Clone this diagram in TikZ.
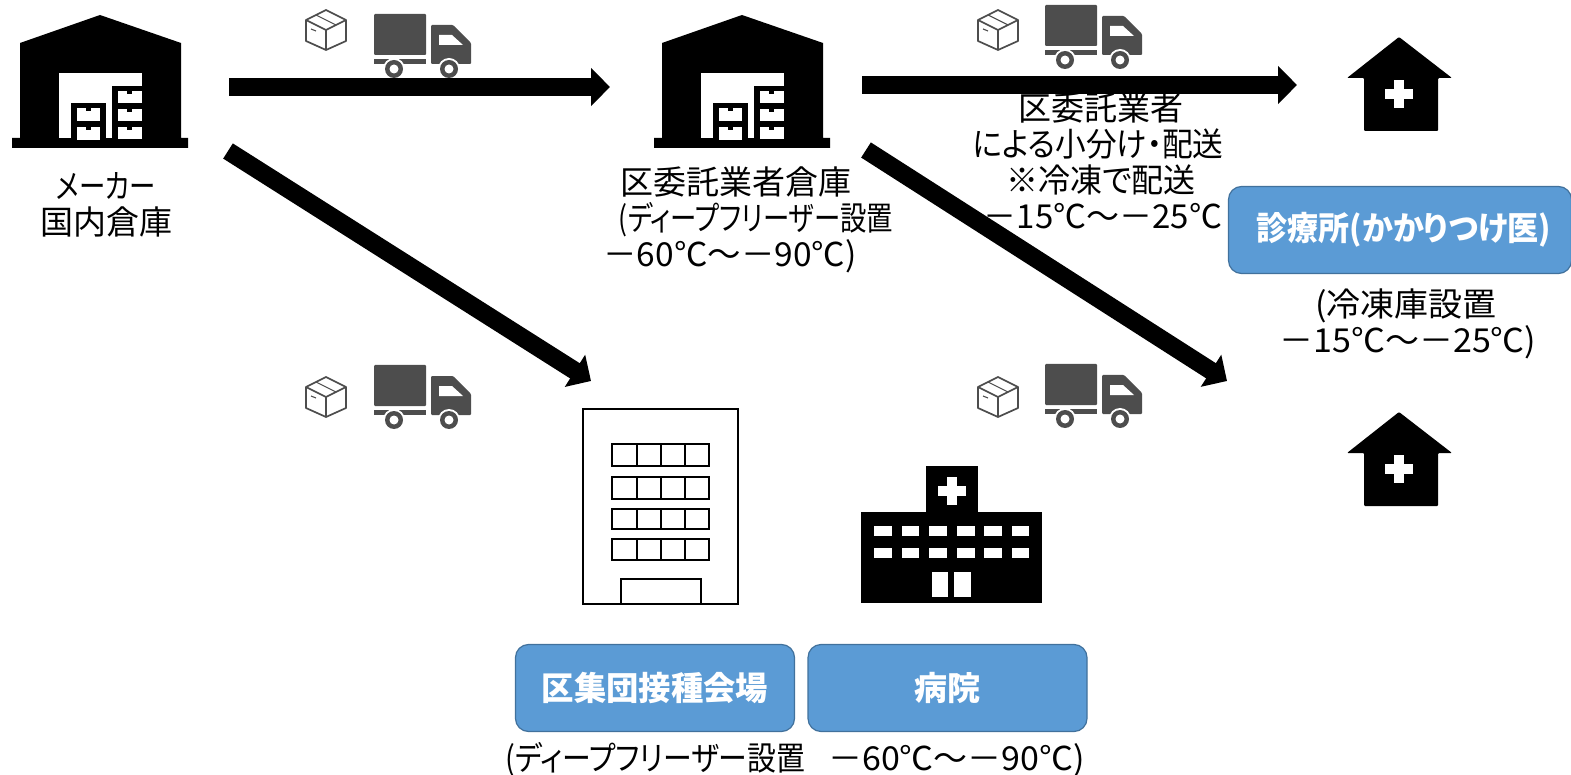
\documentclass[tikz,border=0pt]{standalone}
\usepackage{fontspec}
\usetikzlibrary{arrows.meta}
\setmainfont{Noto Sans CJK JP}[RawFeature={+palt}]
\definecolor{bluebox}{HTML}{5B9BD5}
\definecolor{blueedge}{HTML}{41719C}
\definecolor{truckgray}{HTML}{4D4D4D}
\newcommand{\sx}[2]{\scalebox{#1}[1]{#2}}
\newcommand{\lineat}[3]{\makebox[0pt]{\hspace*{#1pt}\hspace*{#1pt}\scalebox{#2}[1]{#3}}}
\newcommand{\warehouse}[2]{%
\begin{scope}[shift={(#1,#2)}]
\fill[black] (100,15) -- (181,43) -- (181,138) -- (188,138) -- (188,148) -- (12,148) -- (12,138) -- (20,138) -- (20,43) -- cycle;
\fill[white] (59,73) rectangle (142,138);
\fill[black] (71,103) rectangle (106,138);
\fill[black] (112,86) rectangle (142,138);
\foreach \a/\b in {77/108,77/127}{\fill[white] (\a,\b) rectangle ++(23,13);\fill[black] (\a+9,\b) rectangle ++(5,3);}
\foreach \b in {91,109,127}{\fill[white] (118,\b) rectangle ++(24,12);\fill[black] (127,\b) rectangle ++(5,3);}
\end{scope}}
\newcommand{\truck}[2]{%
\begin{scope}[shift={(#1,#2)},truckgray]
\fill[rounded corners=1pt] (374,14) rectangle (426,55);
\fill[rounded corners=1pt] (431,25) -- (453,25) -- (471,43) -- (471,64) -- (431,64) -- cycle;
\fill[white] (439,35) -- (452,35) -- (463,45) -- (439,45) -- cycle;
\fill (374,59) rectangle (426,64);
\fill[white] (394,69) circle (11);
\fill[white] (449,69) circle (11);
\fill (394,69) circle (9);
\fill (449,69) circle (9);
\fill[white] (394,69) circle (4.5);
\fill[white] (449,69) circle (4.5);
\end{scope}}
\newcommand{\parcel}[2]{%
\begin{scope}[shift={(#1,#2)},draw=truckgray,line width=1.7pt,line join=round]
\draw (326,10) -- (346,20) -- (346,41) -- (326,50) -- (306,41) -- (306,20) -- cycle;
\draw (306,20) -- (326,30) -- (346,20) (326,30) -- (326,50);
\draw[line width=1.1pt] (316,15) -- (336,25);
\draw[line width=1.1pt] (311,29) -- (316,31);
\end{scope}}
\newcommand{\clinic}[2]{%
\begin{scope}[shift={(#1,#2)}]
\fill[black,rounded corners=1pt] (1399,37) -- (1452,78) -- (1438,78) -- (1438,131) -- (1364,131) -- (1364,78) -- (1347,78) -- cycle;
\fill[white] (1394,80) rectangle (1404,108);
\fill[white] (1385,89) rectangle (1413,99);
\end{scope}}
\tikzset{
  bigarrow/.style={line width=18pt,draw=black,-{Triangle[length=19pt,width=37pt]}},
  bluelabel/.style={draw=blueedge,line width=1.2pt,fill=bluebox,rounded corners=13pt,text=white,font=\fontsize{33}{37}\selectfont\bfseries,inner sep=0pt,minimum height=87pt},
  caption/.style={text=black,font=\fontsize{33}{36}\selectfont,align=center,inner sep=0pt}
}
\begin{document}
\begin{tikzpicture}[x=1pt,y=-1pt]
\useasboundingbox (0,0) rectangle (1571,775);
% icons
\warehouse{0}{0}
\warehouse{642}{0}
\truck{0}{0}
\truck{671}{-9}
\truck{0}{351}
\truck{671}{350}
\parcel{0}{0}
\parcel{672}{0}
\parcel{0}{367}
\parcel{672}{367}
\clinic{0}{0}
\clinic{0}{375}
% office building
\begin{scope}[black,line width=2pt]
\draw (583,409) rectangle (738,604);
\foreach \t/\b in {444/466,477/499,509/529,539/560}{
  \draw (612,\t) rectangle (709,\b);
  \foreach \v in {637,661,685}{\draw (\v,\t) -- (\v,\b);}
}
\draw (621,604) -- (621,579) -- (701,579) -- (701,604);
\end{scope}
% hospital
\fill[black] (926,466) rectangle (978,512);
\fill[black] (861,512) rectangle (1042,603);
\fill[white] (947,477) rectangle (957,505);
\fill[white] (938,486) rectangle (966,496);
\foreach \a/\b in {874/892,902/919,929/947,957/975,984/1002,1012/1029}{
  \fill[white] (\a,526) rectangle (\b,536);
  \fill[white] (\a,548) rectangle (\b,558);
}
\fill[white] (932,572) rectangle (948,597);
\fill[white] (954,572) rectangle (971,597);
% texts
\node[caption] (maker) at (106,205) {\lineat{0}{0.80}{メーカー}\\\lineat{0}{1}{国内倉庫}};
\node[caption] (ward) at (750,220) {\lineat{-14}{1}{区委託業者倉庫}\\\lineat{6}{0.80}{(ディープフリーザー設置}\\\lineat{-20}{1.015}{－60℃～－90℃)}};
\node[caption] (note) at (1097,161) {\lineat{4}{1}{区委託業者}\\\lineat{1}{0.93}{による小分け・配送}\\\lineat{4}{0.97}{※冷凍で配送}\\\lineat{6}{1}{－15℃～－25℃}};
\node[caption] (cold) at (1405,324) {\lineat{1}{1.03}{(冷凍庫設置}\\\lineat{3}{1.03}{－15℃～－25℃)}};
\node[caption,anchor=west] (deep) at (505,760) {\sx{0.875}{(ディープフリーザー設置}};
\node[caption,anchor=west] (temp) at (828,760) {\sx{1.03}{－60℃～－90℃)}};
\node[bluelabel,minimum width=279pt] (venue) at (655,688) {\raisebox{-1pt}{\sx{0.98}{区集団接種会場}}};
\node[bluelabel,minimum width=279pt] (hosp) at (947.5,688) {\raisebox{-1pt}{病院}};
\node[bluelabel,minimum width=343pt] (doc) at (1400,230) {\hspace*{8pt}\sx{0.94}{診療所(かかりつけ医)}};
% arrows
\coordinate (a1s) at (229,87);
\coordinate (a1e) at (610,87);
\coordinate (a2s) at (862,85);
\coordinate (a2e) at (1297,85);
\coordinate (a3s) at (228,151);
\coordinate (a3e) at (591,381);
\coordinate (a4s) at (866,150);
\coordinate (a4e) at (1227,381);
\draw[bigarrow] (a1s) -- (a1e);
\draw[bigarrow] (a2s) -- (a2e);
\draw[bigarrow] (a3s) -- (a3e);
\draw[bigarrow] (a4s) -- (a4e);
\end{tikzpicture}
\end{document}
